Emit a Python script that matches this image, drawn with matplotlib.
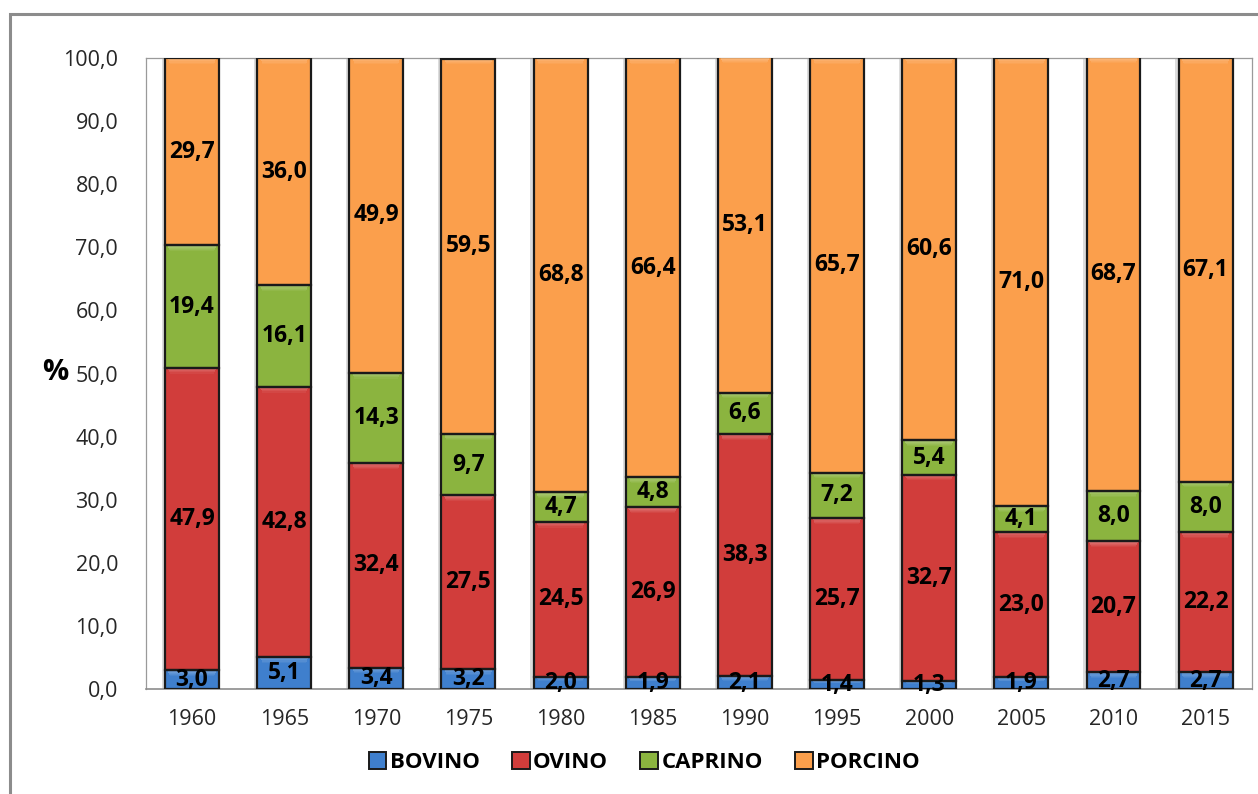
import matplotlib
matplotlib.use("Agg")
import matplotlib.pyplot as plt
from matplotlib.patches import Rectangle, Patch
import matplotlib.colors as mcolors
import numpy as np

years = ["1960", "1965", "1970", "1975", "1980", "1985", "1990", "1995", "2000", "2005", "2010", "2015"]
bovino = [3.0, 5.1, 3.4, 3.2, 2.0, 1.9, 2.1, 1.4, 1.3, 1.9, 2.7, 2.7]
ovino = [47.9, 42.8, 32.4, 27.5, 24.5, 26.9, 38.3, 25.7, 32.7, 23.0, 20.7, 22.2]
caprino = [19.4, 16.1, 14.3, 9.7, 4.7, 4.8, 6.6, 7.2, 5.4, 4.1, 8.0, 8.0]
porcino = [29.7, 36.0, 49.9, 59.5, 68.8, 66.4, 53.1, 65.7, 60.6, 71.0, 68.7, 67.1]
y_ticks = [0, 10, 20, 30, 40, 50, 60, 70, 80, 90, 100]

series = [
    ("BOVINO", bovino, "#3f7fcd"),
    ("OVINO", ovino, "#d13d3b"),
    ("CAPRINO", caprino, "#8bb43f"),
    ("PORCINO", porcino, "#fb9f4c"),
]

plt.rcParams["font.family"] = ["Open Sans", "DejaVu Sans"]

fig = plt.figure(figsize=(12.58, 7.94), dpi=100)
ax = fig.add_axes([0.116, 0.132, 0.879, 0.795])

# outer chart frame
fig.patches.append(Rectangle((10 / 1258, -0.1), 1.2, 0.1 + (1 - 14 / 794),
                             transform=fig.transFigure, fill=False,
                             edgecolor="#8c8c8c", linewidth=2.2, zorder=0))

x = np.arange(len(years))
width = 0.585
bottom = np.zeros(len(years))

for name, vals, color in series:
    vals = np.array(vals)
    # soft shadow on the left of each segment
    ax.bar(x - 0.035, vals, width, bottom=bottom, color="#dcdcdc",
           edgecolor="none", zorder=1)
    ax.bar(x, vals, width, bottom=bottom, color=color,
           edgecolor="none", zorder=3)
    # bevel highlight fading down from the top of each segment
    base = np.array(mcolors.to_rgb(color))
    light = tuple(base + (1 - base) * 0.5)
    depth = np.minimum(0.9, vals * 0.35)
    steps = 5
    for k in range(steps):
        seg = depth / steps
        ax.bar(x, seg, width * (0.9 - 0.02 * k),
               bottom=bottom + vals - seg * (k + 1), color=light,
               edgecolor="none", zorder=4, alpha=0.55 * (1 - k / steps))
    ax.bar(x, vals, width, bottom=bottom, color="none",
           edgecolor="#1a1a1a", linewidth=1.6, zorder=5)
    for xi, b, v in zip(x, bottom, vals):
        ax.text(xi, b + v / 2, f"{v:.1f}".replace(".", ","), ha="center",
                va="center", fontsize=16.5, fontweight="bold", color="black",
                zorder=6)
    bottom = bottom + vals

ax.set_xlim(-0.5, len(years) - 0.5)
ax.set_ylim(0, 100)
ax.set_yticks(y_ticks)
ax.set_yticklabels([f"{t:.1f}".replace(".", ",") for t in y_ticks],
                   fontsize=15.5, color="#262626")
ax.set_xticks(x)
ax.set_xticklabels(years, fontsize=15.5, color="#262626")
ax.tick_params(axis="both", length=0)
ax.tick_params(axis="x", pad=14)
ax.tick_params(axis="y", pad=20)

for side in ["top", "right", "left"]:
    ax.spines[side].set_color("#9a9a9a")
    ax.spines[side].set_linewidth(0.9)
ax.spines["bottom"].set_color("#8c8c8c")
ax.spines["bottom"].set_linewidth(1.2)

fig.text(55 / 1258, 1 - 372 / 794, "%", fontsize=21, fontweight="bold",
         ha="center", va="center")

handles = [Patch(facecolor=c, edgecolor="#1a1a1a", linewidth=1.4, label=n)
           for n, _, c in series]
fig.legend(handles=handles, loc="center", bbox_to_anchor=(0.512, 0.04),
           ncol=4, frameon=False, handlelength=0.8, handleheight=0.8,
           handletextpad=0.15, columnspacing=1.45,
           prop={"size": 16, "weight": "bold"})

fig.savefig("out.png", dpi=100)
